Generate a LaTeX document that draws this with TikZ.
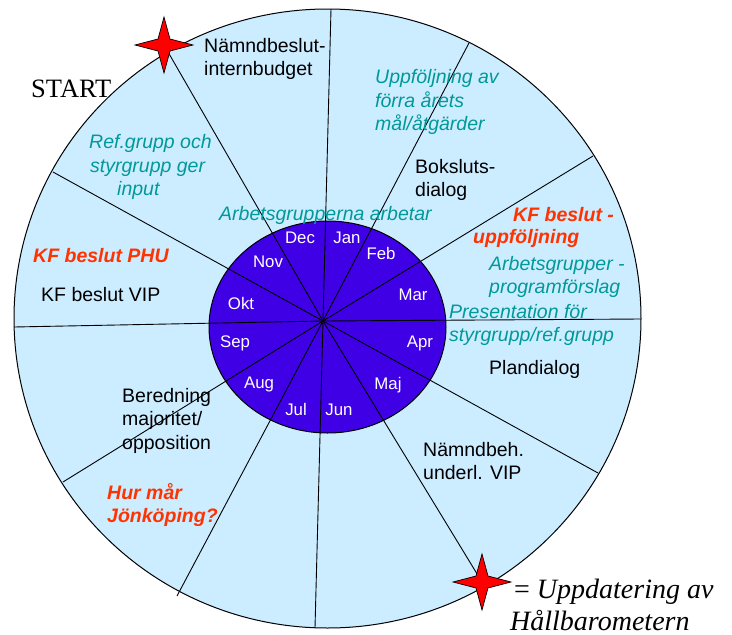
\documentclass[tikz,border=0pt]{standalone}
\usepackage{fontspec}
\setmainfont{Liberation Sans}
\newfontfamily\serifface{Liberation Serif}
\definecolor{wheelblue}{RGB}{204,236,255}
\definecolor{hubviolet}{RGB}{64,0,230}
\definecolor{tealtext}{RGB}{0,153,153}
\definecolor{redtext}{RGB}{255,51,0}
\begin{document}
\begin{tikzpicture}[x=1pt,y=-1pt,
  lbl/.style={anchor=base west, inner sep=0pt, font=\fontsize{19.5}{23}\selectfont},
  tealtxt/.style={lbl, text=tealtext, font=\fontsize{19.5}{23}\selectfont\itshape},
  redtxt/.style={lbl, text=redtext, font=\fontsize{19.5}{23}\selectfont\bfseries\itshape},
  month/.style={text=white, inner sep=0pt, font=\fontsize{16.8}{19}\selectfont},
  ray/.style={draw=black, line width=0.9pt},
  rim/.style={draw=black, line width=1pt},
  fourstar/.pic={\draw[fill=red, line width=0.7pt, line join=miter]
     (0,-28) -- (6,-6) -- (29,0) -- (6,6) -- (0,28) -- (-6,6) -- (-29,0) -- (-6,-6) -- cycle;}
]
\useasboundingbox (0,0) rectangle (732,635);

% wheel
\path[rim, fill=wheelblue] (327.5,318.5) ellipse [x radius=313.5, y radius=309.5];
\path[rim, fill=hubviolet] (327.5,327) ellipse [x radius=118.5, y radius=106];

% centre and ray ends
\coordinate (c) at (323,321);
\coordinate (r1) at (331,9);
\coordinate (r2) at (469,43);
\coordinate (r3) at (593,156);
\coordinate (r4) at (641,319);
\coordinate (r5) at (598,473);
\coordinate (r6) at (482,582);
\coordinate (r7) at (315,628);
\coordinate (r8) at (177,596);
\coordinate (r9) at (63,482);
\coordinate (r10) at (14,327);
\coordinate (r11) at (53,172);
\coordinate (r12) at (164,45);
\foreach \i in {1,...,12} \draw[ray] (c) -- (r\i);

% months
\node[month] (dec) at (300,238) {Dec};
\node[month] (jan) at (347,238) {Jan};
\node[month] (feb) at (381,253) {Feb};
\node[month] (mar) at (413,295) {Mar};
\node[month] (apr) at (420,343) {Apr};
\node[month] (maj) at (388,385) {Maj};
\node[month] (jun) at (339,410) {Jun};
\node[month] (jul) at (296,409) {Jul};
\node[month] (aug) at (259,384) {Aug};
\node[month] (sep) at (235,343) {Sep};
\node[month] (okt) at (241,303) {Okt};
\node[month] (nov) at (268,262) {Nov};

% labels
\node[lbl] (nb1) at (204,52) {Nämndbeslut-};
\node[lbl] (nb2) at (204,75) {internbudget};

\node[tealtxt] (up1) at (375,83) {Uppföljning av};
\node[tealtxt] (up2) at (375,107) {förra årets};
\node[tealtxt] (up3) at (375,130) {mål/åtgärder};

\node[tealtxt] (rg1) at (89,148) {Ref.grupp och};
\node[tealtxt] (rg2) at (90,172) {styrgrupp ger};
\node[tealtxt] (rg3) at (117,195) {input};

\node[lbl] (bd1) at (415,173) {Boksluts-};
\node[lbl] (bd2) at (415,196) {dialog};

\node[tealtxt] (ag) at (219,220) {Arbetsgrupperna arbetar};

\node[redtxt] (kf1) at (513,221) {KF beslut -};
\node[redtxt] (kf2) at (473,243) {uppföljning};

\node[tealtxt] (ap1) at (489,270) {Arbetsgrupper -};
\node[tealtxt] (ap2) at (489,293) {programförslag};

\node[tealtxt] (pr1) at (449,318) {Presentation för};
\node[tealtxt] (pr2) at (449,341) {styrgrupp/ref.grupp};

\node[lbl] (pd) at (489,374) {Plandialog};

\node[lbl] (nv1) at (423,456) {Nämndbeh.};
\node[lbl] (nv2) at (423,479) {underl. VIP};

\node[redtxt] (phu) at (33,262) {KF beslut PHU};
\node[lbl] (vip) at (41,301) {KF beslut VIP};

\node[lbl] (be1) at (122,402) {Beredning};
\node[lbl] (be2) at (122,425) {majoritet/};
\node[lbl] (be3) at (122,449) {opposition};

\node[redtxt] (hm1) at (107,499) {Hur mår};
\node[redtxt] (hm2) at (107,522) {Jönköping?};

\node[lbl, font=\serifface\fontsize{26.5}{29}\selectfont] (start) at (31,97) {START};

\node[lbl, font=\serifface\fontsize{28}{31}\selectfont] (leg1) at (514,598) {= \textit{Uppdatering av}};
\node[lbl, font=\serifface\itshape\fontsize{28}{31}\selectfont] (leg2) at (510,630) {Hållbarometern};

% stars
\pic at (r12) {fourstar};
\pic at (r6) {fourstar};
\end{tikzpicture}
\end{document}
